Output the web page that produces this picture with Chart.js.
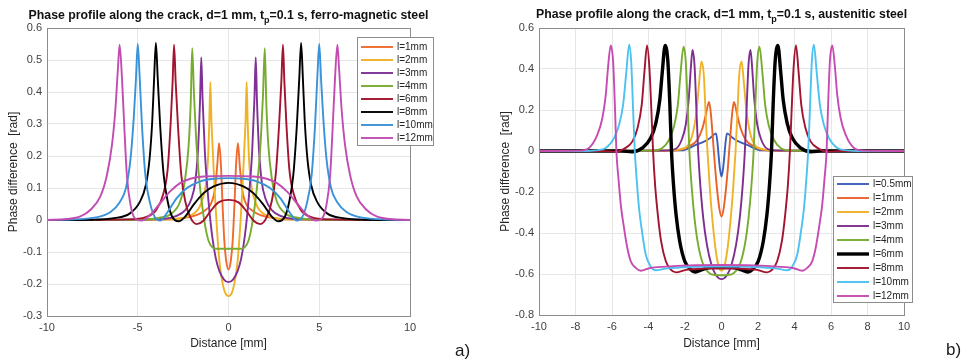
<!DOCTYPE html>
<html>
<head>
<meta charset="utf-8">
<script src="https://cdn.jsdelivr.net/npm/chart.js@4.4.0/dist/chart.umd.min.js"></script>
<style>
  body { margin: 0; background: #fff; width: 968px; height: 363px; position: relative; overflow: hidden; }
  canvas { position: absolute; top: 0; }
  #ferro { left: 0; }
  #aust { left: 484px; }
  .tag { position: absolute; font: 17px 'Liberation Sans', Arial, sans-serif; line-height: 1; color: #1a1a1a; }
</style>
</head>
<body>
<canvas id="ferro" width="484" height="363"></canvas>
<canvas id="aust" width="484" height="363"></canvas>
<div class="tag" style="left:455px; top:342px">a)</div>
<div class="tag" style="left:946px; top:341px">b)</div>
<script>
Chart.defaults.font.family = "'Liberation Sans', Arial, sans-serif";

// ferro-magnetic steel (panel a)
const ferroLabels = ['l=1mm', 'l=2mm', 'l=3mm', 'l=4mm', 'l=6mm', 'l=8mm', 'l=10mm', 'l=12mm'];
const ferroColors = ['#ef6a2c', '#f0b225', '#7f3196', '#77ac30', '#a2142f', '#000000', '#3a93d8', '#c24cb2'];

const ferroX1 = [-10,-3.5,-2.5,-1.7,-1.3,-1.02,-0.82,-0.72,-0.62,-0.52,-0.42,-0.33,-0.23,-0.12,0,0.12,0.23,0.33,0.42,0.52,0.62,0.72,0.82,1.02,1.3,1.7,2.5,3.5,10];
const ferroY1 = [0,0.002,0.006,0.017,0.03,0.045,0.075,0.11,0.17,0.24,0.175,0.05,-0.065,-0.13,-0.155,-0.13,-0.065,0.05,0.175,0.24,0.17,0.11,0.075,0.045,0.03,0.017,0.006,0.002,0];
const ferroX2 = [-10,-3.2,-2.4,-1.9,-1.6,-1.4,-1.25,-1.14,-1.06,-1.0,-0.94,-0.86,-0.76,-0.64,-0.5,-0.35,-0.18,0,0.18,0.35,0.5,0.64,0.76,0.86,0.94,1.0,1.06,1.14,1.25,1.4,1.6,1.9,2.4,3.2,10];
const ferroY2 = [0,0.002,0.008,0.02,0.04,0.07,0.11,0.18,0.3,0.431,0.31,0.21,0.09,-0.025,-0.13,-0.19,-0.228,-0.238,-0.228,-0.19,-0.13,-0.025,0.09,0.21,0.31,0.431,0.3,0.18,0.11,0.07,0.04,0.02,0.008,0.002,0];
const ferroX3 = [-10,-3.6,-2.9,-2.4,-2.05,-1.83,-1.68,-1.57,-1.5,-1.43,-1.3,-1.1,-0.9,-0.7,-0.5,-0.25,0,0.25,0.5,0.7,0.9,1.1,1.3,1.43,1.5,1.57,1.68,1.83,2.05,2.4,2.9,3.6,10];
const ferroY3 = [0,0.003,0.012,0.03,0.065,0.12,0.22,0.37,0.508,0.38,0.21,0.058,-0.05,-0.12,-0.16,-0.186,-0.194,-0.186,-0.16,-0.12,-0.05,0.058,0.21,0.38,0.508,0.37,0.22,0.12,0.065,0.03,0.012,0.003,0];
const ferroX4 = [-10,-4.5,-3.8,-3.1,-2.65,-2.4,-2.2,-2.08,-2.0,-1.9,-1.78,-1.6,-1.45,-1.28,-1.1,-0.9,-0.7,0,0.7,0.9,1.1,1.28,1.45,1.6,1.78,1.9,2.0,2.08,2.2,2.4,2.65,3.1,3.8,4.5,10];
const ferroY4 = [0,0.002,0.007,0.022,0.06,0.125,0.23,0.37,0.537,0.39,0.25,0.12,0.045,-0.02,-0.065,-0.085,-0.09,-0.09,-0.09,-0.085,-0.065,-0.02,0.045,0.12,0.25,0.39,0.537,0.37,0.23,0.125,0.06,0.022,0.007,0.002,0];
const ferroX6 = [-10,-5.5,-4.6,-4.0,-3.6,-3.35,-3.18,-3.08,-3.0,-2.91,-2.78,-2.6,-2.38,-2.1,-1.75,-1.4,-1.0,-0.55,0,0.55,1.0,1.4,1.75,2.1,2.38,2.6,2.78,2.91,3.0,3.08,3.18,3.35,3.6,4.0,4.6,5.5,10];
const ferroY6 = [0,0.002,0.008,0.03,0.08,0.16,0.31,0.43,0.548,0.43,0.29,0.14,0.058,0.008,-0.013,-0.003,0.027,0.055,0.063,0.055,0.027,-0.003,-0.013,0.008,0.058,0.14,0.29,0.43,0.548,0.43,0.31,0.16,0.08,0.03,0.008,0.002,0];
const ferroX8 = [-10,-7.5,-6.3,-5.45,-4.9,-4.55,-4.35,-4.2,-4.1,-4.0,-3.9,-3.76,-3.57,-3.35,-3.11,-2.75,-2.38,-1.92,-1.37,-0.82,0,0.82,1.37,1.92,2.38,2.75,3.11,3.35,3.57,3.76,3.9,4.0,4.1,4.2,4.35,4.55,4.9,5.45,6.3,7.5,10];
const ferroY8 = [0,0.001,0.006,0.02,0.055,0.11,0.19,0.31,0.44,0.553,0.444,0.29,0.14,0.058,0.011,-0.004,0.011,0.048,0.084,0.105,0.116,0.105,0.084,0.048,0.011,-0.004,0.011,0.058,0.14,0.29,0.444,0.553,0.44,0.31,0.19,0.11,0.055,0.02,0.006,0.001,0];
const ferroX10 = [-10,-8.5,-7.3,-6.5,-6.0,-5.65,-5.4,-5.22,-5.1,-5.0,-4.91,-4.77,-4.58,-4.3,-4.03,-3.76,-3.39,-2.84,-2.29,-1.55,-0.82,0,0.82,1.55,2.29,2.84,3.39,3.76,4.03,4.3,4.58,4.77,4.91,5.0,5.1,5.22,5.4,5.65,6.0,6.5,7.3,8.5,10];
const ferroY10 = [0,0.002,0.008,0.025,0.055,0.1,0.19,0.32,0.44,0.55,0.465,0.298,0.14,0.048,0.006,-0.002,0.022,0.069,0.1,0.121,0.129,0.131,0.129,0.121,0.1,0.069,0.022,-0.002,0.006,0.048,0.14,0.298,0.465,0.55,0.44,0.32,0.19,0.1,0.055,0.025,0.008,0.002,0];
const ferroX12 = [-10,-8.9,-8.16,-7.6,-7.06,-6.7,-6.42,-6.24,-6.09,-6.0,-5.87,-5.74,-5.6,-5.4,-5.19,-4.8,-4.3,-3.76,-3.2,-2.65,-2.1,-1.37,0,1.37,2.1,2.65,3.2,3.76,4.3,4.8,5.19,5.4,5.6,5.74,5.87,6.0,6.09,6.24,6.42,6.7,7.06,7.6,8.16,8.9,10];
const ferroY12 = [0,0.003,0.011,0.032,0.074,0.14,0.235,0.34,0.475,0.548,0.444,0.29,0.14,0.048,0.008,-0.002,0.017,0.053,0.09,0.116,0.129,0.136,0.138,0.136,0.129,0.116,0.09,0.053,0.017,-0.002,0.008,0.048,0.14,0.29,0.444,0.548,0.475,0.34,0.235,0.14,0.074,0.032,0.011,0.003,0];

// austenitic steel (panel b)
const austLabels = ['l=0.5mm', 'l=1mm', 'l=2mm', 'l=3mm', 'l=4mm', 'l=6mm', 'l=8mm', 'l=10mm', 'l=12mm'];
const austColors = ['#3a5fba', '#e8622a', '#f0b229', '#7e2f8e', '#77ac30', '#000000', '#a2142f', '#4cc2f0', '#c64cb1'];

const austX05 = [-10,-2.2,-1.4,-0.9,-0.6,-0.3,-0.22,-0.15,-0.08,0,0.08,0.15,0.22,0.3,0.6,0.9,1.4,2.2,10];
const austY05 = [0,0.003,0.03,0.048,0.065,0.086,0.04,-0.03,-0.09,-0.125,-0.09,-0.03,0.04,0.086,0.065,0.048,0.03,0.003,0];
const austX1 = [-10,-2.7,-1.77,-1.32,-1.04,-0.86,-0.68,-0.58,-0.48,-0.36,-0.24,-0.12,0,0.12,0.24,0.36,0.48,0.58,0.68,0.86,1.04,1.32,1.77,2.7,10];
const austY1 = [0,0.002,0.023,0.055,0.112,0.177,0.239,0.18,0.07,-0.07,-0.19,-0.28,-0.32,-0.28,-0.19,-0.07,0.07,0.18,0.239,0.177,0.112,0.055,0.023,0.002,0];
const austX2 = [-10,-2.9,-2.3,-1.86,-1.59,-1.37,-1.22,-1.1,-0.97,-0.86,-0.77,-0.64,-0.49,-0.31,-0.13,0,0.13,0.31,0.49,0.64,0.77,0.86,0.97,1.1,1.22,1.37,1.59,1.86,2.3,2.9,10];
const austY2 = [0,0.002,0.008,0.025,0.08,0.193,0.34,0.437,0.372,0.161,0,-0.18,-0.343,-0.489,-0.571,-0.584,-0.571,-0.489,-0.343,-0.18,0,0.161,0.372,0.437,0.34,0.193,0.08,0.025,0.008,0.002,0];
const austX3 = [-10,-3.05,-2.5,-2.18,-1.96,-1.79,-1.68,-1.59,-1.48,-1.37,-1.28,-1.15,-1.0,-0.8,-0.55,-0.27,0,0.27,0.55,0.8,1.0,1.15,1.28,1.37,1.48,1.59,1.68,1.79,1.96,2.18,2.5,3.05,10];
const austY3 = [0,0.002,0.011,0.055,0.128,0.259,0.405,0.493,0.421,0.193,0,-0.18,-0.327,-0.457,-0.555,-0.61,-0.625,-0.61,-0.555,-0.457,-0.327,-0.18,0,0.193,0.421,0.493,0.405,0.259,0.128,0.055,0.011,0.002,0];
const austX4 = [-10,-3.78,-3.24,-2.87,-2.6,-2.39,-2.25,-2.08,-1.96,-1.85,-1.76,-1.63,-1.48,-1.28,-1.0,-0.68,-0.31,0,0.31,0.68,1.0,1.28,1.48,1.63,1.76,1.85,1.96,2.08,2.25,2.39,2.6,2.87,3.24,3.78,10];
const austY4 = [0,0.002,0.015,0.055,0.12,0.226,0.372,0.509,0.437,0.21,0,-0.18,-0.327,-0.457,-0.555,-0.595,-0.605,-0.606,-0.605,-0.595,-0.555,-0.457,-0.327,-0.18,0,0.21,0.437,0.509,0.372,0.226,0.12,0.055,0.015,0.002,0];
const austX6 = [-10,-5.5,-4.9,-4.33,-3.88,-3.6,-3.38,-3.24,-3.09,-2.94,-2.83,-2.74,-2.63,-2.49,-2.29,-2.01,-1.68,-1.45,-1.2,-0.8,0,0.8,1.2,1.45,1.68,2.01,2.29,2.49,2.63,2.74,2.83,2.94,3.09,3.24,3.38,3.6,3.88,4.33,4.9,5.5,10];
const austY6 = [0,0,-0.004,0.015,0.063,0.135,0.25,0.39,0.515,0.437,0.226,0,-0.164,-0.31,-0.44,-0.538,-0.579,-0.59,-0.583,-0.571,-0.564,-0.571,-0.583,-0.59,-0.579,-0.538,-0.44,-0.31,-0.164,0,0.226,0.437,0.515,0.39,0.25,0.135,0.063,0.015,-0.004,0,0];
const austX8 = [-10,-6.5,-5.8,-5.34,-4.88,-4.6,-4.37,-4.22,-4.08,-3.95,-3.84,-3.75,-3.64,-3.49,-3.31,-3.05,-2.78,-2.5,-1.96,-0.86,0,0.86,1.96,2.5,2.78,3.05,3.31,3.49,3.64,3.75,3.84,3.95,4.08,4.22,4.37,4.6,4.88,5.34,5.8,6.5,10];
const austY8 = [0,0,-0.004,0.011,0.047,0.112,0.226,0.39,0.515,0.405,0.193,0,-0.164,-0.31,-0.44,-0.538,-0.579,-0.592,-0.58,-0.574,-0.573,-0.574,-0.58,-0.592,-0.579,-0.538,-0.44,-0.31,-0.164,0,0.193,0.405,0.515,0.39,0.226,0.112,0.047,0.011,-0.004,0,0];
const austX10 = [-10,-7.5,-6.9,-6.34,-5.89,-5.61,-5.39,-5.21,-5.06,-4.95,-4.84,-4.75,-4.64,-4.52,-4.33,-4.15,-3.88,-3.6,-3.05,-1.77,0,1.77,3.05,3.6,3.88,4.15,4.33,4.52,4.64,4.75,4.84,4.95,5.06,5.21,5.39,5.61,5.89,6.34,6.9,7.5,10];
const austY10 = [0,0,0.003,0.015,0.063,0.128,0.226,0.39,0.519,0.437,0.193,0,-0.148,-0.278,-0.408,-0.506,-0.563,-0.582,-0.574,-0.566,-0.564,-0.566,-0.574,-0.582,-0.563,-0.506,-0.408,-0.278,-0.148,0,0.193,0.437,0.519,0.39,0.226,0.128,0.063,0.015,0.003,0,0];
const austX12 = [-10,-7.8,-7.26,-6.8,-6.53,-6.34,-6.22,-6.07,-5.94,-5.83,-5.76,-5.65,-5.52,-5.34,-5.16,-4.97,-4.7,-4.42,-3.97,-3.05,-1.77,0,1.77,3.05,3.97,4.42,4.7,4.97,5.16,5.34,5.52,5.65,5.76,5.83,5.94,6.07,6.22,6.34,6.53,6.8,7.26,7.8,10];
const austY12 = [0,0.002,0.015,0.08,0.16,0.275,0.405,0.515,0.437,0.193,0,-0.13,-0.26,-0.376,-0.473,-0.538,-0.57,-0.584,-0.572,-0.564,-0.558,-0.556,-0.558,-0.564,-0.572,-0.584,-0.57,-0.538,-0.473,-0.376,-0.26,-0.13,0,0.193,0.437,0.515,0.405,0.275,0.16,0.08,0.015,0.002,0];

const ferroSeries = [[ferroX1, ferroY1], [ferroX2, ferroY2], [ferroX3, ferroY3], [ferroX4, ferroY4],
  [ferroX6, ferroY6], [ferroX8, ferroY8], [ferroX10, ferroY10], [ferroX12, ferroY12]];
const austSeries = [[austX05, austY05], [austX1, austY1], [austX2, austY2], [austX3, austY3], [austX4, austY4],
  [austX6, austY6], [austX8, austY8], [austX10, austY10], [austX12, austY12]];

const pts = (xs, ys) => xs.map((x, i) => ({ x, y: ys[i] }));

// matlab puts later lines on top, chart.js draws lowest order last
function lines(labels, colors, series, thick) {
  return labels.map((label, i) => ({
    label,
    data: pts(series[i][0], series[i][1]),
    borderColor: colors[i],
    backgroundColor: colors[i],
    borderWidth: i === thick ? 3.4 : 1.9,
    showLine: true,
    pointRadius: 0,
    cubicInterpolationMode: 'monotone',
    order: labels.length - i
  }));
}

// box, title with subscript, legend inside the axes
const frame = {
  id: 'frame',
  afterDraw(chart, args, o) {
    const { ctx, chartArea: a } = chart;
    ctx.save();
    ctx.strokeStyle = '#8c8c8c';
    ctx.lineWidth = 1;
    ctx.strokeRect(Math.round(a.left) + 0.5, Math.round(a.top) + 0.5, Math.round(a.right - a.left), Math.round(a.bottom - a.top));

    const big = "bold 12.3px 'Liberation Sans', Arial, sans-serif";
    const small = "bold 9px 'Liberation Sans', Arial, sans-serif";
    ctx.font = big;
    const w1 = ctx.measureText(o.title[0]).width;
    const w3 = ctx.measureText(o.title[2]).width;
    ctx.font = small;
    const w2 = ctx.measureText(o.title[1]).width;
    let x = (a.left + a.right) / 2 - (w1 + w2 + w3) / 2;
    ctx.fillStyle = '#111';
    ctx.textAlign = 'left';
    ctx.textBaseline = 'alphabetic';
    ctx.font = big; ctx.fillText(o.title[0], x, o.titleY); x += w1;
    ctx.font = small; ctx.fillText(o.title[1], x, o.titleY + 4); x += w2;
    ctx.font = big; ctx.fillText(o.title[2], x, o.titleY);

    const L = o.legend;
    ctx.fillStyle = '#fff';
    ctx.fillRect(L.x, L.y, L.w, L.h);
    ctx.strokeStyle = '#8c8c8c';
    ctx.lineWidth = 1;
    ctx.strokeRect(L.x + 0.5, L.y + 0.5, L.w, L.h);
    ctx.font = "10px 'Liberation Sans', Arial, sans-serif";
    ctx.textBaseline = 'middle';
    chart.data.datasets.forEach((d, i) => {
      const y = L.first + i * L.step;
      ctx.strokeStyle = d.borderColor;
      ctx.lineWidth = d.borderWidth;
      ctx.beginPath();
      ctx.moveTo(L.x + 4, y);
      ctx.lineTo(L.x + 4 + L.line, y);
      ctx.stroke();
      ctx.fillStyle = '#262626';
      ctx.fillText(d.label, L.x + 8 + L.line, y);
    });
    ctx.restore();
  }
};

const tickText = v => (Math.abs(v) < 1e-9 ? '0' : String(Math.round(v * 10) / 10));

function axes(xstep, ymin, ymax, ystep, yw, xh) {
  const tick = { color: '#404040', font: { size: 11 }, padding: 5, callback: tickText };
  const grid = { color: '#e6e6e6', drawTicks: false };
  const border = { color: '#8c8c8c' };
  const title = { display: true, color: '#262626', font: { size: 12 } };
  return {
    x: {
      type: 'linear', min: -10, max: 10,
      ticks: { ...tick, stepSize: xstep },
      grid, border,
      title: { ...title, text: 'Distance [mm]' },
      afterFit: s => { s.height = xh; }
    },
    y: {
      type: 'linear', min: ymin, max: ymax,
      ticks: { ...tick, stepSize: ystep },
      grid, border,
      title: { ...title, text: 'Phase difference  [rad]' },
      afterFit: s => { s.width = yw; }
    }
  };
}

new Chart(document.getElementById('ferro'), {
  type: 'scatter',
  data: { datasets: lines(ferroLabels, ferroColors, ferroSeries, -1) },
  options: {
    responsive: false, animation: false, devicePixelRatio: 1, events: [],
    layout: { padding: { left: 2, right: 74, top: 28, bottom: 8 } },
    scales: axes(5, -0.3, 0.6, 0.1, 45, 39),
    plugins: {
      legend: { display: false },
      tooltip: { enabled: false },
      frame: {
        title: ['Phase profile along the crack, d=1 mm, t', 'p', '=0.1 s, ferro-magnetic steel'],
        titleY: 19,
        legend: { x: 357, y: 37, w: 76, h: 108, first: 47, step: 13, line: 32 }
      }
    }
  },
  plugins: [frame]
});

new Chart(document.getElementById('aust'), {
  type: 'scatter',
  data: { datasets: lines(austLabels, austColors, austSeries, 5) },
  options: {
    responsive: false, animation: false, devicePixelRatio: 1, events: [],
    layout: { padding: { left: 10, right: 64, top: 28, bottom: 8 } },
    scales: axes(2, -0.8, 0.6, 0.2, 45, 40),
    plugins: {
      legend: { display: false },
      tooltip: { enabled: false },
      frame: {
        title: ['Phase profile along the crack, d=1 mm, t', 'p', '=0.1 s, austenitic steel'],
        titleY: 18,
        legend: { x: 349, y: 176, w: 79, h: 126, first: 184, step: 14, line: 32 }
      }
    }
  },
  plugins: [frame]
});
</script>
</body>
</html>
